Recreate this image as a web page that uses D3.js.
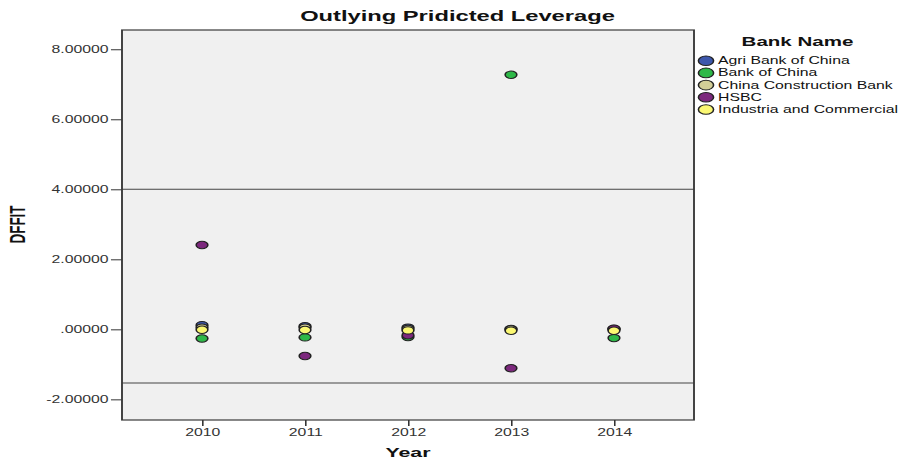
<!DOCTYPE html>
<html>
<head>
<meta charset="utf-8">
<script src="https://cdn.jsdelivr.net/npm/d3@7/dist/d3.min.js"></script>
<style>
  html, body { margin: 0; padding: 0; background: #fff; }
  svg { display: block; }
  text { font-family: "Liberation Sans", Arial, sans-serif; }
</style>
</head>
<body>
<svg id="chart" width="900" height="462"></svg>
<script>
// ---- data ----
const years = [2010, 2011, 2012, 2013, 2014];
const banks = ["Agri Bank of China", "Bank of China", "China Construction Bank", "HSBC", "Industria and Commercial"];
const bankColors = ["#3E58AC", "#2EB848", "#D3CE97", "#7C287D", "#FBF873"];
const agriBank = [0.12, 0.09, 0.05, 0.01, 0.00];
const bankOfChina = [-0.26, -0.23, -0.22, 7.27, -0.25];
const constructionBank = [0.05, 0.05, 0.01, 0.00, 0.01];
const hsbc = [2.41, -0.76, -0.17, -1.11, 0.02];
const industrialCommercial = [-0.01, -0.02, -0.03, -0.04, -0.04];
const seriesValues = [agriBank, bankOfChina, constructionBank, hsbc, industrialCommercial];
const yTicks = [-2, 0, 2, 4, 6, 8];
const yTickLabels = ["-2.00000", ".00000", "2.00000", "4.00000", "6.00000", "8.00000"];
const xTickLabels = ["2010", "2011", "2012", "2013", "2014"];
const refLines = [4.0, -1.53];

// ---- layout (natural coords, stretched horizontally like the reference) ----
const S = 1.58;
const svg = d3.select("#chart");
const root = svg.append("g").attr("transform", `scale(${S},1)`);

const pLeft = 122 / S, pRight = 694 / S, pTop = 30, pBottom = 420;
const x = d3.scaleLinear().domain([2009.223, 2014.777]).range([pLeft, pRight]);
const y = d3.scaleLinear().domain([-2.59, 8.55]).range([pBottom, pTop]);

// plot background
root.append("rect")
  .attr("x", pLeft).attr("y", pTop)
  .attr("width", pRight - pLeft).attr("height", pBottom - pTop)
  .attr("fill", "#F0F0F0");

// reference lines
root.selectAll("line.ref").data(refLines).enter().append("line")
  .attr("class", "ref")
  .attr("x1", pLeft).attr("x2", pRight)
  .attr("y1", d => y(d)).attr("y2", d => y(d))
  .attr("stroke", "#444").attr("stroke-width", 1);

// axes
const yAxis = d3.axisLeft(y).tickValues(yTicks)
  .tickFormat((d, i) => yTickLabels[i]).tickSize(7).tickPadding(1.5);
const gy = root.append("g").attr("transform", `translate(${pLeft},0)`).call(yAxis);
const xAxis = d3.axisBottom(x).tickValues(years)
  .tickFormat((d, i) => xTickLabels[i]).tickSize(6).tickPadding(3);
const gx = root.append("g").attr("transform", `translate(0,${pBottom})`).call(xAxis);
[gx, gy].forEach(g => {
  g.select(".domain").remove();
  g.selectAll(".tick line").attr("stroke", "#333");
  g.selectAll(".tick text").attr("fill", "#333")
    .style("font-family", "'Liberation Sans', Arial, sans-serif").style("font-size", "10px");
});

// plot border
root.append("rect")
  .attr("x", pLeft).attr("y", pTop)
  .attr("width", pRight - pLeft).attr("height", pBottom - pTop)
  .attr("fill", "none").attr("stroke", "#3a3a3a").attr("stroke-width", 1.2);

// points
banks.forEach((b, si) => {
  root.append("g").selectAll("circle")
    .data(seriesValues[si].map((v, i) => ({ year: years[i], v })))
    .enter().append("circle")
    .attr("cx", d => x(d.year)).attr("cy", d => y(d.v))
    .attr("r", 3.7)
    .attr("fill", bankColors[si])
    .attr("stroke", "#222").attr("stroke-width", 1);
});

// title
root.append("text")
  .attr("x", 457.5 / S).attr("y", 21)
  .attr("text-anchor", "middle")
  .style("font-size", "15px").style("font-weight", "bold")
  .attr("fill", "#111")
  .text("Outlying Pridicted Leverage");

// x label
root.append("text")
  .attr("x", (pLeft + pRight) / 2).attr("y", 457)
  .attr("text-anchor", "middle")
  .style("font-size", "13.5px").style("font-weight", "bold")
  .attr("fill", "#111")
  .text("Year");

// y label
root.append("text")
  .attr("transform", `translate(${25 / S},224.5) rotate(-90)`)
  .attr("text-anchor", "middle")
  .style("font-size", "13.5px").style("font-weight", "bold")
  .attr("fill", "#111")
  .text("DFFIT");

// legend
const lg = root.append("g");
lg.append("text")
  .attr("x", 797.5 / S).attr("y", 46.5)
  .attr("text-anchor", "middle")
  .style("font-size", "13px").style("font-weight", "bold")
  .attr("fill", "#111")
  .text("Bank Name");
const legendY = [60.7, 72.9, 85.1, 97.3, 109.5];
banks.forEach((b, i) => {
  lg.append("circle")
    .attr("cx", 706 / S).attr("cy", legendY[i]).attr("r", 4.8)
    .attr("fill", bankColors[i]).attr("stroke", "#222").attr("stroke-width", 1);
  lg.append("text")
    .attr("x", 718 / S).attr("y", legendY[i]).attr("dy", "0.35em")
    .style("font-size", "10px").attr("fill", "#111")
    .text(b);
});
</script>
</body>
</html>
